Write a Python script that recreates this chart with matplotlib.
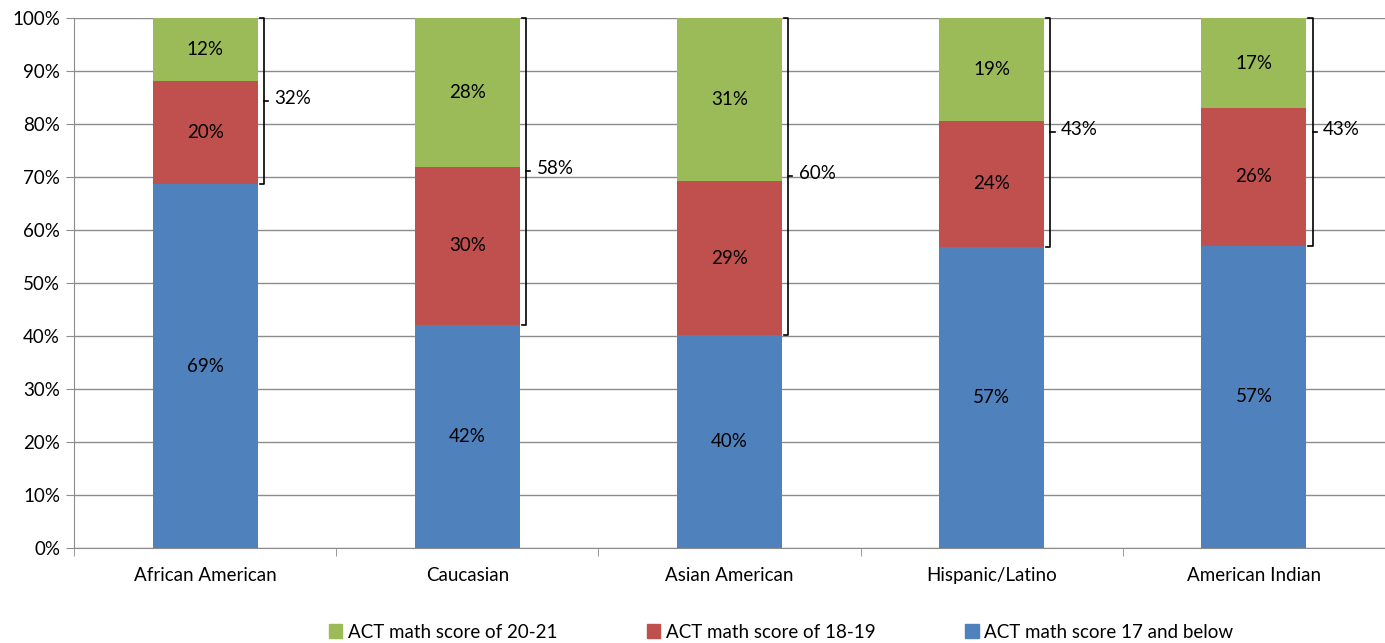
import matplotlib
matplotlib.use("Agg")
import matplotlib.pyplot as plt
from matplotlib.ticker import FixedLocator, PercentFormatter
from matplotlib.patches import Patch

categories = ["African American", "Caucasian", "Asian American", "Hispanic/Latino", "American Indian"]
score_17_below = [68.6, 42.1, 40.2, 56.8, 57.0]
score_18_19 = [19.6, 29.8, 29.0, 23.8, 26.0]
score_20_21 = [11.8, 28.1, 30.8, 19.4, 17.0]
combined_18_21 = [32, 58, 60, 43, 43]
series_names = ["ACT math score of 20-21", "ACT math score of 18-19", "ACT math score 17 and below"]

c_blue, c_red, c_green = "#4F81BD", "#C0504D", "#9BBB59"

plt.rcParams['font.family'] = ['Lato', 'DejaVu Sans']
fig = plt.figure(figsize=(13.85, 6.43), dpi=100)
ax = fig.add_axes([74/1385, 1-548/643, 1311/1385, 530/643])

x = list(range(len(categories)))
w = 0.4
ax.bar(x, score_17_below, w, color=c_blue, zorder=3)
ax.bar(x, score_18_19, w, bottom=score_17_below, color=c_red, zorder=3)
b2 = [a + b for a, b in zip(score_17_below, score_18_19)]
ax.bar(x, score_20_21, w, bottom=b2, color=c_green, zorder=3)

fs = 13.5
for i in x:
    ax.text(i, score_17_below[i]/2, f"{round(score_17_below[i])}%", ha="center", va="center", fontsize=fs, zorder=4)
    ax.text(i, score_17_below[i] + score_18_19[i]/2, f"{round(score_18_19[i])}%", ha="center", va="center", fontsize=fs, zorder=4)
    ax.text(i, b2[i] + score_20_21[i]/2, f"{round(score_20_21[i])}%", ha="center", va="center", fontsize=fs, zorder=4)
    # bracket
    top = b2[i] + score_20_21[i]
    bot = score_17_below[i]
    xb = i + w/2 + 0.024
    hook = 0.016
    ax.plot([xb - hook, xb, xb, xb - hook], [top, top, bot, bot], color="black", lw=1.2, zorder=4, clip_on=False)
    mid = (top + bot) / 2
    ax.plot([xb, xb + hook], [mid, mid], color="black", lw=1.2, zorder=4)
    ax.text(xb + 0.04, mid + 0.5, f"{combined_18_21[i]}%", ha="left", va="center", fontsize=fs, zorder=4)

ax.set_xlim(-0.5, len(categories) - 0.5)
ax.set_ylim(0, 100)
ax.set_yticks(range(0, 101, 10))
ax.yaxis.set_major_formatter(PercentFormatter(decimals=0))
ax.yaxis.grid(True, color="#8C8C8C", lw=1, zorder=0)
ax.set_xticks(x)
ax.set_xticklabels(categories, fontsize=fs)
ax.xaxis.set_minor_locator(FixedLocator([i - 0.5 for i in range(len(categories) + 1)]))
ax.tick_params(axis="x", which="major", length=0, pad=14)
ax.tick_params(axis="x", which="minor", length=6, color="#8C8C8C", direction="out")
ax.tick_params(axis="y", length=6, color="#8C8C8C", labelsize=fs, pad=4)
for s in ["top", "right"]:
    ax.spines[s].set_visible(False)
for s in ["left", "bottom"]:
    ax.spines[s].set_color("#8C8C8C")

handles = [Patch(color=c_green), Patch(color=c_red), Patch(color=c_blue)]
fig.legend(handles, series_names, loc="center", bbox_to_anchor=(781/1385, 1-632/643), ncol=3,
           frameon=False, fontsize=fs, handlelength=0.7, handleheight=0.7, handletextpad=0.3,
           columnspacing=4.8)

fig.savefig("out.png", dpi=100)
